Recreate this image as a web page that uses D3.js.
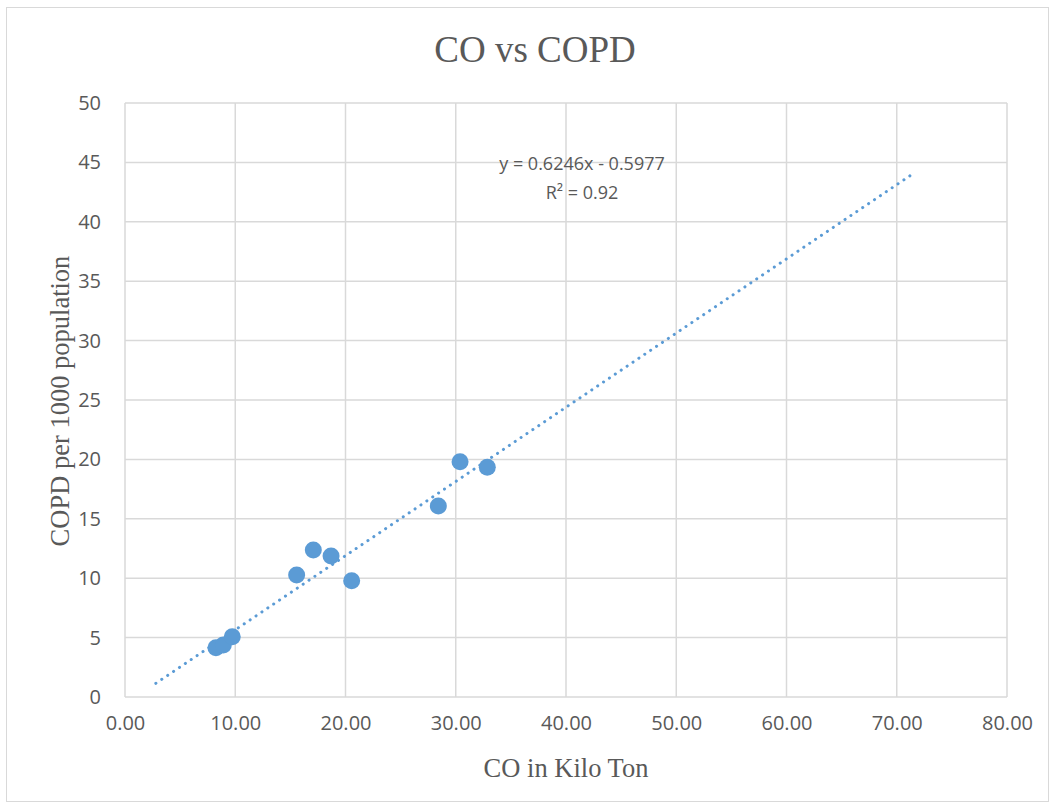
<!DOCTYPE html>
<html>
<head>
<meta charset="utf-8">
<script src="https://cdn.jsdelivr.net/npm/d3@7"></script>
<style>
  html, body { margin: 0; padding: 0; background: #fff; }
  svg { display: block; }
</style>
</head>
<body>
<svg id="chart" width="1055" height="808"></svg>
<script>
// CO emissions (kilo ton) and COPD cases per 1000 population
const coKiloTon = [8.25, 8.92, 9.73, 15.57, 17.08, 18.69, 20.56, 28.42, 30.39, 32.86];
const copdPer1000 = [4.15, 4.38, 5.08, 10.27, 12.37, 11.87, 9.79, 16.08, 19.81, 19.33];

// Linear trendline as reported on the chart, with its forecast span
const trendSlope = 0.6246;
const trendIntercept = -0.5977;
const trendRSquared = 0.92;
const trendSpan = [2.8, 71.5];

const xTicks = [0, 10, 20, 30, 40, 50, 60, 70, 80];
const yTicks = [0, 5, 10, 15, 20, 25, 30, 35, 40, 45, 50];

const svg = d3.select("#chart");
const W = 1055, H = 808;
const plot = { left: 125, right: 1007, top: 103, bottom: 697 };
const textColor = "#595959";

// chart frame
svg.append("rect")
  .attr("x", 6.5).attr("y", 7.5)
  .attr("width", W - 13).attr("height", H - 14)
  .attr("fill", "#fff").attr("stroke", "#d9d9d9").attr("stroke-width", 1);

const x = d3.scaleLinear().domain([0, 80]).range([plot.left, plot.right]);
const y = d3.scaleLinear().domain([0, 50]).range([plot.bottom, plot.top]);

// gridlines
const grid = svg.append("g").attr("stroke", "#d9d9d9").attr("stroke-width", 1.5);
grid.selectAll("line.v").data(xTicks).join("line")
  .attr("class", "v")
  .attr("x1", d => x(d)).attr("x2", d => x(d))
  .attr("y1", plot.top).attr("y2", plot.bottom);
grid.selectAll("line.h").data(yTicks).join("line")
  .attr("class", "h")
  .attr("x1", plot.left).attr("x2", plot.right)
  .attr("y1", d => y(d)).attr("y2", d => y(d));

// axes (labels only, no domain or tick marks)
const tickFont = "'Open Sans', 'Liberation Sans', sans-serif";
const xAxis = svg.append("g")
  .attr("transform", `translate(0,${plot.bottom})`)
  .call(d3.axisBottom(x).tickValues(xTicks).tickFormat(d3.format(".2f")).tickSize(0).tickPadding(19));
const yAxis = svg.append("g")
  .attr("transform", `translate(${plot.left},0)`)
  .call(d3.axisLeft(y).tickValues(yTicks).tickSize(0).tickPadding(24));
[xAxis, yAxis].forEach(a => {
  a.select(".domain").remove();
  a.selectAll("text")
    .attr("fill", textColor)
    .style("font-family", tickFont)
    .style("font-size", "20px");
});

// trendline
const trendData = trendSpan.map(v => ({ x: v, y: trendSlope * v + trendIntercept }));
svg.append("path")
  .datum(trendData)
  .attr("d", d3.line().x(d => x(d.x)).y(d => y(d.y)))
  .attr("fill", "none")
  .attr("stroke", "#5b9bd5")
  .attr("stroke-width", 3)
  .attr("stroke-linecap", "round")
  .attr("stroke-dasharray", "0.1 7");

// data points
svg.append("g").selectAll("circle")
  .data(coKiloTon.map((v, i) => ({ x: v, y: copdPer1000[i] })))
  .join("circle")
  .attr("cx", d => x(d.x))
  .attr("cy", d => y(d.y))
  .attr("r", 8.5)
  .attr("fill", "#5b9bd5");

// trendline equation
const eq = svg.append("text")
  .attr("x", 582).attr("y", 170)
  .attr("text-anchor", "middle")
  .attr("fill", textColor)
  .style("font-family", tickFont)
  .style("font-size", "18px");
eq.append("tspan").attr("x", 582).text(`y = ${trendSlope}x - ${Math.abs(trendIntercept)}`);
eq.append("tspan").attr("x", 582).attr("dy", 29).text(`R² = ${trendRSquared}`);

// title and axis titles
const serif = "'Liberation Serif', 'Times New Roman', serif";
svg.append("text")
  .attr("x", 535).attr("y", 62)
  .attr("text-anchor", "middle")
  .attr("fill", textColor)
  .style("font-family", serif)
  .style("font-size", "37px")
  .text("CO vs COPD");
svg.append("text")
  .attr("x", 566).attr("y", 777)
  .attr("text-anchor", "middle")
  .attr("fill", textColor)
  .style("font-family", serif)
  .style("font-size", "26.5px")
  .text("CO in Kilo Ton");
svg.append("text")
  .attr("transform", "translate(69,401) rotate(-90)")
  .attr("text-anchor", "middle")
  .attr("fill", textColor)
  .style("font-family", serif)
  .style("font-size", "26.5px")
  .text("COPD per 1000 population");
</script>
</body>
</html>
